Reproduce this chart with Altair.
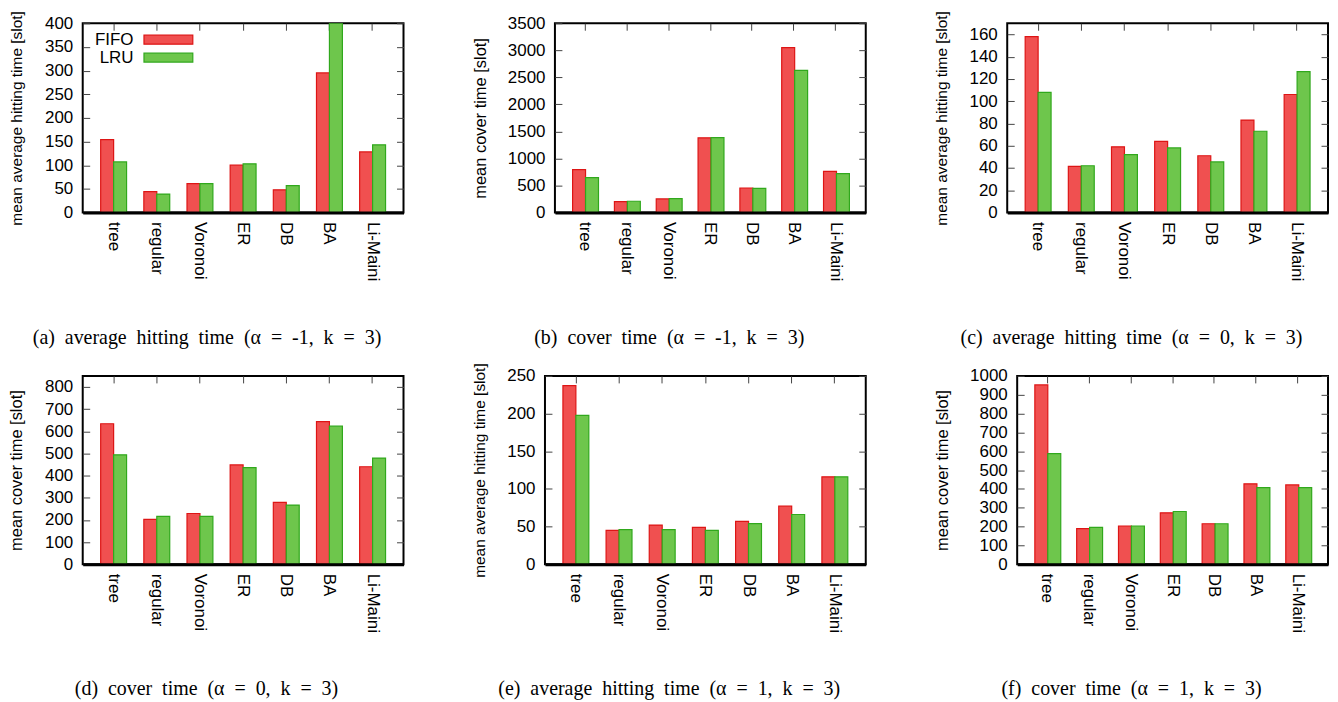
import altair as alt
import pandas as pd

categories = ["tree", "regular", "Voronoi", "ER", "DB", "BA", "Li-Maini"]
series = ["FIFO", "LRU"]

a_fifo = [154, 44, 61, 100, 48, 295, 128]
a_lru = [107, 39, 61, 103, 57, 400, 143]
b_fifo = [792, 203, 252, 1381, 454, 3051, 761]
b_lru = [645, 209, 258, 1387, 448, 2628, 718]
c_fifo = [158, 41.5, 59, 64, 51, 83, 106]
c_lru = [108, 42, 52, 58, 45.5, 73, 126.5]
d_fifo = [634, 202, 229, 448, 279, 644, 440]
d_lru = [494, 216, 216, 436, 267, 623, 479]
e_fifo = [237, 45, 52, 49, 57, 77, 116]
e_lru = [197.5, 46, 46, 45, 54, 66, 116]
f_fifo = [952, 189, 203, 273, 215, 427, 421]
f_lru = [587, 196, 203, 280, 215, 407, 407]

ticks_a = [0, 50, 100, 150, 200, 250, 300, 350, 400]
ticks_b = [0, 500, 1000, 1500, 2000, 2500, 3000, 3500]
ticks_c = [0, 20, 40, 60, 80, 100, 120, 140, 160]
ticks_d = [0, 100, 200, 300, 400, 500, 600, 700, 800]
ticks_e = [0, 50, 100, 150, 200, 250]
ticks_f = [0, 100, 200, 300, 400, 500, 600, 700, 800, 900, 1000]

title_hit = "mean average hitting time [slot]"
title_cov = "mean cover time [slot]"

S = "\u00a0 "  # widened word gap (non-collapsing)
captions = [
    f"(a){S}average{S}hitting{S}time{S}(α{S}={S}-1,{S}k{S}={S}3)",
    f"(b){S}cover{S}time{S}(α{S}={S}-1,{S}k{S}={S}3)",
    f"(c){S}average{S}hitting{S}time{S}(α{S}={S}0,{S}k{S}={S}3)",
    f"(d){S}cover{S}time{S}(α{S}={S}0,{S}k{S}={S}3)",
    f"(e){S}average{S}hitting{S}time{S}(α{S}={S}1,{S}k{S}={S}3)",
    f"(f){S}cover{S}time{S}(α{S}={S}1,{S}k{S}={S}3)",
]

fill_colors = ["#f05050", "#6ec64c"]
stroke_colors = ["#dd1515", "#30a81c"]

SANS = "Liberation Sans"
SERIF = "Liberation Serif"
TICK = "#444444"


def panel(fifo, lru, ymax, ticks, ytitle, tsize, ext, legx, caption, width, height):
    df = pd.DataFrame({
        "cat": categories * 2,
        "series": ["FIFO"] * len(categories) + ["LRU"] * len(categories),
        "value": fifo + lru,
    })
    leg = alt.Legend(
        title=None, orient="none", legendX=legx, legendY=8, direction="vertical",
        symbolType="M-3.5,-0.643L3.5,-0.643L3.5,0.643L-3.5,0.643Z", symbolSize=196,
        symbolStrokeWidth=1.2, labelAlign="right", labelOffset={"expr": "-43.5"},
        labelFont=SANS, labelFontSize=17, labelColor="black",
        padding=0, rowPadding=0,
    )
    base = alt.Chart(df)
    bars = base.mark_bar(clip=True, strokeWidth=1.2).encode(
        x=alt.X("cat:N", sort=categories,
                scale=alt.Scale(paddingInner=0, paddingOuter=0.216),
                axis=alt.Axis(title=None, labelAngle=90, labelFont=SANS,
                              labelFontSize=17, labelColor="black",
                              labelPadding=9, ticks=False, domain=True,
                              domainColor="black", domainWidth=3, zindex=1)),
        xOffset=alt.XOffset("series:N", sort=series,
                            scale=alt.Scale(paddingInner=0, paddingOuter=0.6667)),
        y=alt.Y("value:Q", stack=None,
                scale=alt.Scale(domain=[0, ymax], nice=False, zero=True),
                axis=alt.Axis(title=ytitle, values=ticks, format="d", orient="left",
                              offset=-7, tickSize=7, tickColor=TICK, tickWidth=1,
                              domain=False, grid=False, labelPadding=10,
                              labelFont=SANS, labelFontSize=17, labelColor="black",
                              labelOverlap=False, minExtent=ext, maxExtent=ext,
                              titlePadding=13, titleFont=SANS, titleFontSize=tsize,
                              titleFontWeight="normal", titleColor="black")),
        fill=alt.Fill("series:N", sort=series,
                      scale=alt.Scale(domain=series, range=fill_colors), legend=leg),
        stroke=alt.Stroke("series:N", sort=series,
                          scale=alt.Scale(domain=series, range=stroke_colors), legend=leg),
    )
    mirror = base.mark_bar(opacity=0, clip=True).encode(
        x=alt.X("cat:N", sort=categories,
                axis=alt.Axis(orient="top", title=None, labels=False, domain=False,
                              offset=-7, tickSize=7, tickColor=TICK, tickWidth=1,
                              grid=False, minExtent=0, maxExtent=0)),
        y=alt.Y("value:Q", stack=None,
                axis=alt.Axis(orient="right", title=None, labels=False, domain=False,
                              values=ticks, offset=-7, tickSize=7, tickColor=TICK,
                              tickWidth=1, grid=False, minExtent=0, maxExtent=0)),
    )
    return alt.layer(bars, mirror).resolve_axis(x="independent", y="independent").properties(
        width=width, height=height,
        title=alt.TitleParams(text=caption, orient="bottom", anchor="middle",
                              frame="bounds", font=SERIF, fontSize=20,
                              fontWeight="normal", color="black", offset=47),
    )


pa = panel(a_fifo, a_lru, 400, ticks_a, title_hit, 15.5, 52, 77.5, captions[0], 322, 190)
pb = panel(b_fifo, b_lru, 3500, ticks_b, title_cov, 16.5, 61, 77.5, captions[1], 312, 190)
pc = panel(c_fifo, c_lru, 170, ticks_c, title_hit, 15.5, 52, 269.5, captions[2], 322, 190)
pd_ = panel(d_fifo, d_lru, 850, ticks_d, title_cov, 16.5, 52, 77.5, captions[3], 322, 189)
pe = panel(e_fifo, e_lru, 250, ticks_e, title_hit, 15.5, 52, 269.5, captions[4], 322, 189)
pf = panel(f_fifo, f_lru, 1000, ticks_f, title_cov, 16.5, 61, 259.5, captions[5], 312, 189)

row1 = alt.hconcat(pa, pb, pc, spacing=66)
row2 = alt.hconcat(pd_, pe, pf, spacing=66)

chart = alt.vconcat(row1, row2, spacing=12).properties(
    padding={"left": 0, "top": 0, "right": 0, "bottom": 0}
).configure_view(stroke="black", strokeWidth=2)

chart.save("out.html", embed_options={"renderer": "svg", "actions": False})
